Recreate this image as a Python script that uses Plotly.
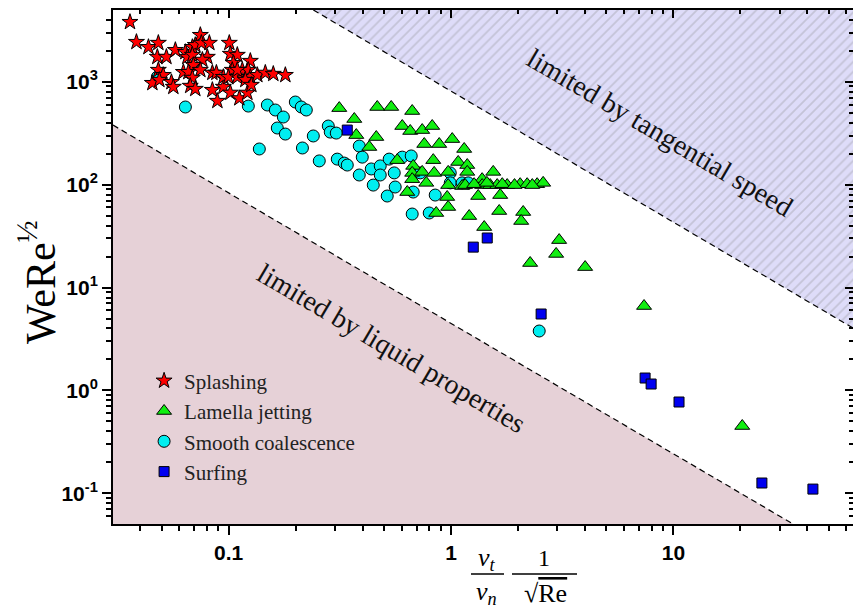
import plotly.graph_objects as go

# ---------------- data ----------------
splash_x = [0.036, 0.0385, 0.0436, 0.0483, 0.0478, 0.0525, 0.0576, 0.0639, 0.0687, 0.0746,
            0.0708, 0.0754, 0.0819, 0.0652, 0.0687, 0.0802, 0.0762, 0.0694, 0.0483, 0.0508,
            0.0454, 0.0488, 0.0553, 0.0564, 0.0626, 0.0659, 0.0746, 0.0687, 0.0672, 0.0708,
            0.0845, 0.0881, 0.0845, 0.0890, 0.0947, 0.0947, 0.1007, 0.1018, 0.1094, 0.1050,
            0.1038, 0.0997, 0.1094, 0.1152, 0.1252, 0.1226, 0.1252, 0.1189, 0.1018, 0.1117,
            0.1214, 0.1265, 0.1346, 0.1462, 0.1588, 0.1799, 0.1094]
splash_y = [3800, 2430, 2170, 2380, 1740, 1740, 2030, 1940, 2170, 2840,
            2270, 2380, 2380, 1740, 1820, 1740, 1630, 1450, 1300, 1160,
            970, 1040, 990, 890, 1240, 1240, 1300, 1090, 910, 850,
            1220, 1220, 830, 650, 890, 1110, 2380, 1860, 1820, 1520,
            1300, 1110, 1110, 1300, 1590, 1300, 1110, 1040, 780, 690,
            780, 930, 1160, 1220, 1190, 1160, 1300]

lam_x = [0.3144, 0.3673, 0.4659, 0.5383, 0.669, 0.375, 0.4612, 0.429, 0.6036, 0.6554,
         0.742, 0.823, 0.758, 0.885, 1.0125, 1.146, 0.573, 0.676, 0.669, 0.669,
         0.742, 0.832, 0.840, 0.774, 0.6358, 0.971, 1.077, 1.183, 1.183, 1.548,
         0.971, 1.122, 1.158, 1.380, 1.380, 1.500, 1.613, 1.789, 2.046, 2.200,
         2.439, 2.596, 0.961, 0.971, 1.325, 1.664, 0.858, 1.207, 1.647, 2.111,
         2.068, 1.410, 3.063, 2.970, 2.269, 4.009, 7.38, 20.4,
         1.27, 1.45, 1.70, 1.93, 2.32]
lam_y = [554, 434, 568, 568, 519, 303, 290, 232, 371, 332,
         339, 371, 248, 248, 277, 222, 173, 152, 130, 113,
         133, 173, 130, 104, 84.7, 133, 166, 155, 133, 133,
         99, 96.9, 99, 113, 99, 99, 99, 99, 101, 101,
         101, 104, 75.8, 60.6, 77.5, 79.2, 53, 49.5, 55.4, 54.2,
         44.3, 38.7, 28.9, 21.2, 17.3, 15.8, 6.61, 0.451,
         101, 104, 101, 99, 99]

coal_x = [0.0639, 0.0478, 0.1226, 0.1493, 0.1622, 0.1762, 0.1655, 0.1799, 0.1374, 0.1995,
          0.2122, 0.2235, 0.2147, 0.2403, 0.2556, 0.2806, 0.2864, 0.3048, 0.308, 0.3311,
          0.3416, 0.3867, 0.399, 0.3867, 0.4378, 0.4805, 0.4805, 0.447, 0.527, 0.5555,
          0.561, 0.5166, 0.6036, 0.6622, 0.727, 0.676, 0.669, 0.798, 0.849, 0.992,
          0.992, 1.122, 1.195, 2.492]
coal_y = [568, 1111, 580, 594, 531, 454, 355, 310, 222, 635,
          568, 531, 227, 297, 170, 371, 324, 317, 177, 162,
          155, 237, 185, 124, 142, 152, 124, 99, 177, 130,
          94.8, 77.5, 185, 190, 130, 84.7, 51.8, 53, 79.2, 130,
          104, 104, 104, 3.78]

surf_x = [0.3416, 1.455, 1.259, 2.542, 7.46, 7.94, 10.6, 25.0, 42.4]
surf_y = [339, 30.3, 24.7, 5.53, 1.32, 1.154, 0.772, 0.126, 0.110]

# boundary lines of the shaded regions (end points, data units)
liq_x = [0.0302, 34.5]
liq_y = [379, 0.0504]
tan_x = [0.2404, 64.2]
tan_y = [4977, 4.04]

x_tickvals = [0.1, 1, 10]
x_ticktext = ["0.1", "1", "10"]
y_tickvals = [0.1, 1, 10, 100, 1000]
y_ticktext = ["10<sup>-1</sup>", "10<sup>0</sup>", "10<sup>1</sup>", "10<sup>2</sup>", "10<sup>3</sup>"]

XR = [-1.52, 1.8076]
YR = [-1.298, 3.697]

minor_vals = [m * 10.0 ** e for e in range(-2, 4) for m in range(2, 10)]

SERIF = "Liberation Serif"
SANS = "Liberation Sans"

fig = go.Figure()

# lower-left region (limited by liquid properties)
fig.add_trace(go.Scatter(
    x=[liq_x[0], liq_x[1], liq_x[1], 1e-3, 1e-3],
    y=[liq_y[0], liq_y[1], 1e-3, 1e-3, liq_y[0]],
    fill="toself", fillcolor="#e6d1d7", mode="lines", line=dict(width=0),
    showlegend=False, hoverinfo="skip"))
fig.add_trace(go.Scatter(x=liq_x, y=liq_y, mode="lines",
                         line=dict(color="black", width=1.2, dash="6px,4px"),
                         showlegend=False, hoverinfo="skip"))

# upper-right region (limited by tangential speed)
fig.add_trace(go.Scatter(
    x=[tan_x[0], tan_x[1], 1e4, 1e4, tan_x[0]],
    y=[tan_y[0], tan_y[1], tan_y[1], 1e6, 1e6],
    fill="toself", fillcolor="#dedcf9", mode="lines", line=dict(width=0),
    fillpattern=dict(shape="/", bgcolor="#dedcf9", fgcolor="#a9a9b6", size=7, solidity=0.25),
    showlegend=False, hoverinfo="skip"))
fig.add_trace(go.Scatter(x=tan_x, y=tan_y, mode="lines",
                         line=dict(color="black", width=1.2, dash="6px,4px"),
                         showlegend=False, hoverinfo="skip"))

mline = dict(color="black", width=1)
fig.add_trace(go.Scatter(x=coal_x, y=coal_y, mode="markers", name="Smooth coalescence",
                         legendrank=3,
                         marker=dict(symbol="circle", size=12, color="#00eef0", line=mline)))
fig.add_trace(go.Scatter(x=lam_x, y=lam_y, mode="markers", name="Lamella jetting",
                         legendrank=2,
                         marker=dict(symbol="triangle-up", size=13, color="#10ee10", line=mline)))
fig.add_trace(go.Scatter(x=surf_x, y=surf_y, mode="markers", name="Surfing",
                         legendrank=4,
                         marker=dict(symbol="square", size=10, color="#0000f0", line=mline)))
fig.add_trace(go.Scatter(x=splash_x, y=splash_y, mode="markers", name="Splashing",
                         legendrank=1,
                         marker=dict(symbol="star", size=12, color="#ff0000", line=mline)))

# dummy trace for mirrored axes
fig.add_trace(go.Scatter(x=[None], y=[None], xaxis="x2", yaxis="y2",
                         showlegend=False, hoverinfo="skip"))

tickfont = dict(family=SANS, size=21, color="black", weight="bold")
axis_common = dict(type="log", showline=True, linewidth=2, linecolor="black",
                   showgrid=False, zeroline=False, ticks="outside", ticklen=9,
                   tickwidth=2, tickcolor="black", tickmode="array")

fig.update_layout(
    width=853, height=609,
    margin=dict(l=113, r=0, t=10, b=85),
    plot_bgcolor="white", paper_bgcolor="white",
    xaxis=dict(**axis_common, range=XR, tickvals=x_tickvals, ticktext=x_ticktext,
               tickfont=tickfont,
               minor=dict(tickmode="array", tickvals=minor_vals, ticks="outside",
                          ticklen=5, tickwidth=1.5, tickcolor="black", showgrid=False)),
    yaxis=dict(**axis_common, range=YR, tickvals=y_tickvals, ticktext=y_ticktext,
               tickfont=tickfont,
               minor=dict(tickmode="array", tickvals=minor_vals, ticks="outside",
                          ticklen=5, tickwidth=1.5, tickcolor="black", showgrid=False)),
    xaxis2=dict(type="log", overlaying="x", side="top", range=XR, showline=True,
                linewidth=2, linecolor="black", showgrid=False, zeroline=False,
                ticks="inside", ticklen=8, tickwidth=2, tickcolor="black",
                tickmode="array", tickvals=x_tickvals, showticklabels=False,
                minor=dict(tickmode="array", tickvals=minor_vals, ticks="inside",
                           ticklen=4, tickwidth=1.5, tickcolor="black", showgrid=False)),
    yaxis2=dict(type="log", overlaying="y", side="right", range=YR, showline=True,
                linewidth=2, linecolor="black", showgrid=False, zeroline=False,
                ticks="inside", ticklen=8, tickwidth=2, tickcolor="black",
                tickmode="array", tickvals=y_tickvals, showticklabels=False,
                minor=dict(tickmode="array", tickvals=minor_vals, ticks="inside",
                           ticklen=4, tickwidth=1.5, tickcolor="black", showgrid=False)),
    legend=dict(x=0.042, y=0.318, xanchor="left", yanchor="top",
                bgcolor="rgba(0,0,0,0)", font=dict(family=SERIF, size=21, color="#222")),
    showlegend=True,
)


def px(xp):
    return (xp - 113) / 740


def py(yp):
    return (524 - yp) / 514


ann = [
    dict(text="WeRe<sup>½</sup>", x=px(37), y=py(282), textangle=-90,
         font=dict(family=SERIF, size=42, color="black")),
    dict(text="limited by tangential speed", x=px(660), y=py(132), textangle=30.5,
         font=dict(family=SERIF, size=28, color="#111")),
    dict(text="limited by liquid properties", x=px(392), y=py(348), textangle=30.5,
         font=dict(family=SERIF, size=28, color="#111")),
    dict(text="<i>v<sub>t</sub></i>", x=px(487), y=py(559),
         font=dict(family=SERIF, size=26, color="black")),
    dict(text="<i>v<sub>n</sub></i>", x=px(487), y=py(593),
         font=dict(family=SERIF, size=26, color="black")),
    dict(text="1", x=px(544), y=py(558),
         font=dict(family=SERIF, size=24, color="black")),
    dict(text="√<span style='text-decoration:overline'>Re</span>", x=px(545), y=py(593),
         font=dict(family=SERIF, size=26, color="black")),
]
for a in ann:
    fig.add_annotation(xref="paper", yref="paper", showarrow=False,
                       xanchor="center", yanchor="middle", **a)

for x0, x1 in [(471, 504), (512, 577)]:
    fig.add_shape(type="line", xref="paper", yref="paper",
                  x0=px(x0), x1=px(x1), y0=py(574), y1=py(574),
                  line=dict(color="black", width=1.3))

fig.write_html("out.html")
